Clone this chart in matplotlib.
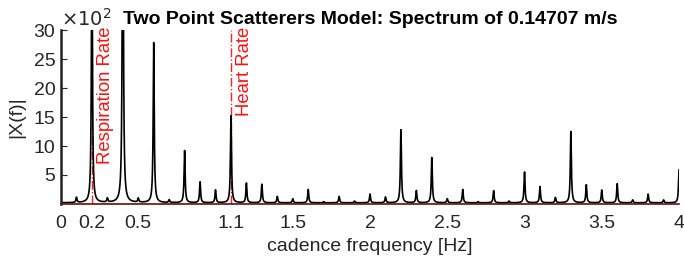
import numpy as np
import matplotlib.pyplot as plt

plt.rcParams['font.family'] = ['Liberation Sans', 'DejaVu Sans']

# Peak positions (Hz) and peak heights (in units of 10^2)
peak_freq = [0.1, 0.2, 0.3, 0.4, 0.5, 0.6, 0.7, 0.8, 0.9, 1.0,
             1.1, 1.2, 1.3, 1.4, 1.5, 1.6, 1.7, 1.8, 1.9, 2.0,
             2.1, 2.2, 2.3, 2.4, 2.5, 2.6, 2.7, 2.8, 2.9, 3.0,
             3.1, 3.2, 3.3, 3.4, 3.5, 3.6, 3.7, 3.8, 3.9, 4.0]
peak_height = [0.9, 45.0, 0.7, 70.0, 0.7, 27.6, 0.5, 9.0, 3.6, 2.2,
               15.0, 3.4, 3.2, 1.1, 0.7, 2.3, 0.2, 1.1, 0.3, 1.5,
               1.0, 12.6, 2.1, 7.8, 0.7, 2.3, 0.2, 2.1, 0.3, 5.3,
               2.8, 0.9, 12.3, 3.1, 2.2, 3.3, 0.5, 1.5, 0.5, 5.7]

marker_freq = [0.2, 1.1]
marker_label = ['Respiration Rate', 'Heart Rate']

xtick_vals = [0, 0.2, 0.5, 1.1, 1.5, 2, 2.5, 3, 3.5, 4]
xtick_text = ['0', '0.2', '0.5', '1.1', '1.5', '2', '2.5', '3', '3.5', '4']
ytick_vals = [5, 10, 15, 20, 25, 30]

# spectrum curve: each peak drawn with a narrow Lorentzian line shape
f = np.linspace(0, 4, 8001)
gamma = 0.004
mag = np.full_like(f, 0.2)
for f0, h in zip(peak_freq, peak_height):
    mag += h * gamma**2 / ((f - f0)**2 + gamma**2)

fig = plt.figure(figsize=(6.84, 2.59), dpi=100)
ax = fig.add_axes([0.0892, 0.2124, 0.9035, 0.6716])

for fm in marker_freq:
    ax.axvline(fm, color='#ff2020', lw=1.0, ls='-.', zorder=1)
ax.plot(f, mag, color='black', lw=1.2, zorder=2)
ax.axhline(0, color='#cc2020', lw=1.0, zorder=1)

for fm, lab in zip(marker_freq, marker_label):
    ax.text(fm + 0.033, 30.6, lab, rotation=90, color='#ff1010',
            fontsize=13.3, ha='left', va='top')

ax.set_xlim(0, 4)
ax.set_ylim(0, 30)
ax.set_xticks(xtick_vals)
ax.set_xticklabels(xtick_text)
ax.set_yticks(ytick_vals)
for lbl, v in zip(ax.get_xticklabels(), xtick_vals):
    lbl.set_color('#ff1010' if v in marker_freq else '#262626')
ax.tick_params(axis='both', direction='in', labelsize=14, colors='#262626',
               length=4, width=0.8)
ax.tick_params(axis='x', length=0, pad=8)
ax.tick_params(axis='y', pad=4)

for s in ['top', 'right']:
    ax.spines[s].set_visible(False)
ax.spines['left'].set_linewidth(1.8)
ax.spines['left'].set_color('#222222')
ax.spines['bottom'].set_linewidth(1.2)
ax.spines['bottom'].set_color('#6a1010')

ax.text(0.0, 1.0, r'$\times10^{2}$', transform=ax.transAxes, fontsize=14,
        color='#262626', ha='left', va='bottom')
ax.set_ylabel('|X(f)|', fontsize=14, color='#262626', labelpad=6)
ax.set_xlabel('cadence frequency [Hz]', fontsize=14, color='#262626', labelpad=4)
ax.set_title('Two Point Scatterers Model: Spectrum of 0.14707 m/s',
             fontsize=14, fontweight='bold', pad=4, x=0.5)

fig.savefig('out.png', dpi=100)
